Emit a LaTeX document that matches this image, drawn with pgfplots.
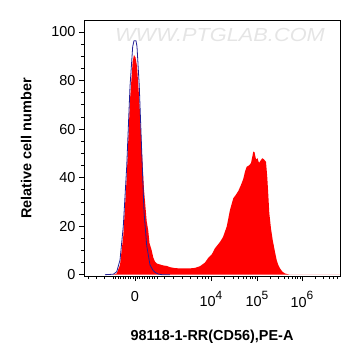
\documentclass[border=0pt]{standalone}
\usepackage{pgfplots}
\pgfplotsset{compat=1.18}
\usepackage{fontspec}
\setmainfont{Liberation Sans}
\definecolor{histblue}{RGB}{35,30,150}
\newcommand{\tenp}[1]{10\raisebox{0.5em}{\fontsize{12}{12}\selectfont #1}}
\begin{document}
\begin{tikzpicture}
\begin{axis}[
  scale only axis,
  width=256bp, height=255.3bp,
  xmin=84, xmax=340,
  ymin=-0.54, ymax=104.66,
  axis line style={line width=0.8pt},
  tick pos=left,
  tick align=outside,
  major tick length=5bp,
  minor tick length=3bp,
  every tick/.style={black, line width=0.7pt},
  xtick={135,211,257,302},
  xticklabels={0,\tenp{4},\tenp{5},\tenp{6}},
  minor xtick={88,96,104,113,115.5,118,120.5,123,125.5,128,130.5,133,137,139.5,142,144.5,147,149.5,152,154.5,157,164,173,182,190,197,202,205,208,224.8,233,238.7,243.2,246.8,249.9,252.5,254.9,270.5,278.5,284,288.5,292,295,297.6,300,315.5,323.5,329,333.5,337},
  ytick={0,20,40,60,80,100},
  minor y tick num=3,
  /pgf/number format/assume math mode=true,
  tick label style={font=\fontsize{14.5}{14.5}\selectfont},
  xticklabel style={yshift=-7bp, anchor=north},
  xlabel={\bfseries 98118-1-RR(CD56),PE-A},
  ylabel={\bfseries Relative cell number},
  label style={font=\fontsize{14.5}{14.5}\selectfont},
  xlabel style={yshift=-16bp},
  ylabel style={yshift=13bp},
  clip=true,
]
\coordinate (bl) at (rel axis cs:0,0);
\coordinate (tr) at (rel axis cs:1,1);
\node[text=gray!20, font=\fontsize{19}{19}\selectfont\itshape, xscale=1.15] at (axis cs:220,98.8) {WWW.PTGLAB.COM};
\addplot[fill=red, draw=none] coordinates {
(110,0) (113,0) (116.7,0.5) (120,4) (123.3,16) (126.7,40) (130,72) (132.7,88) (134,90.5) (135.5,89.5) (137,86) (139.3,72) (141.7,52) (144,35) (146.7,22) (148.3,18) (149.5,13) (151.7,10) (153.3,7) (155,5.4) (157,4.6) (160,4.2) (163.3,3.8) (166.7,3.6) (170,3.1) (175,2.7) (180,2.6) (190,2.6) (195,2.8) (200,3.5) (205,5) (208,6.8) (211.7,8.3) (215,10.9) (220,13.5) (223,15.5) (226.7,19.8) (230,26.7) (233.3,31.5) (236,33) (238.3,34.5) (241,37) (243.3,39.5) (245,42.5) (246.7,44.5) (249,45) (251,46) (252.5,49) (253.3,50.7) (254.5,50.5) (256,47.5) (257.5,48) (259,46) (260.5,47) (262.3,48) (264,47.5) (266,46.5) (267.3,40) (268.3,33) (269.3,25.4) (271,19) (272.7,14.3) (274.7,10) (276.7,6) (278.3,4) (280,2.6) (282.5,1.2) (285,0.5) (290,0) (340,0)
} \closedcycle;
\addplot[histblue, line width=0.8pt] coordinates {
(105,0) (113.3,0.2) (116.7,1.2) (120,6) (123.3,20) (126.7,44.5) (130,77.5) (132.7,94) (134,96.4) (136,96.4) (137,94) (139.3,77.5) (141.7,51) (144,26) (146.7,12) (150,4) (153,1.8) (155,1) (158,0.3) (162,0) (170,0)
};
\end{axis}
\pgfresetboundingbox
\path ([shift={(-84bp,-80bp)}]bl) rectangle ([shift={(21bp,20.7bp)}]tr);
\end{tikzpicture}
\end{document}
